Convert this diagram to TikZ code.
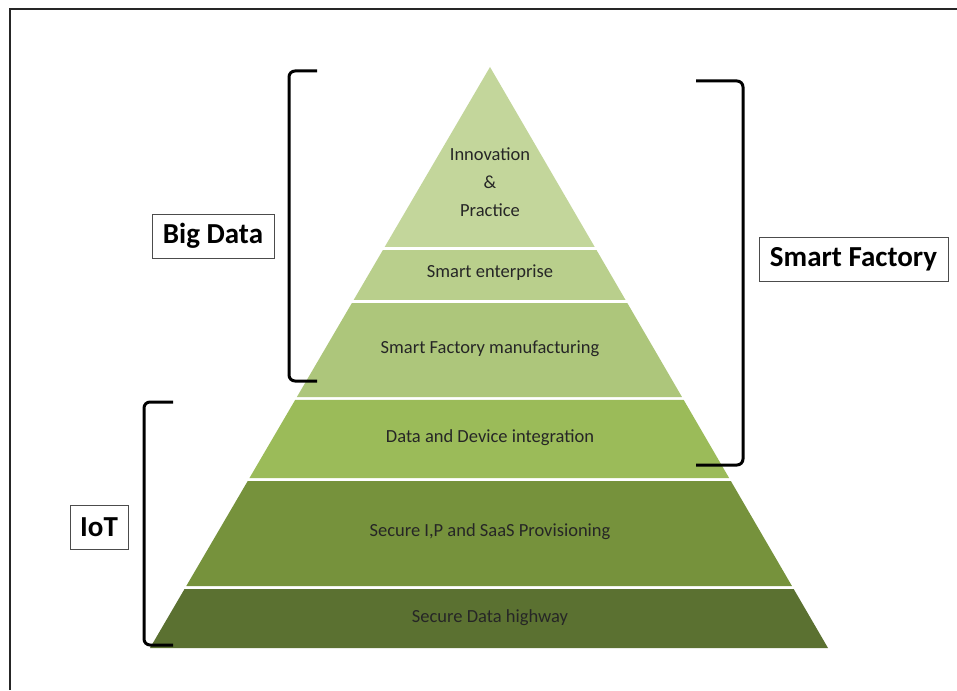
\documentclass[tikz,border=0pt]{standalone}
\usepackage{fontspec}
\setmainfont{Carlito}
\usetikzlibrary{calc}
\definecolor{cA}{HTML}{C3D69B}
\definecolor{cB}{HTML}{B9CF8C}
\definecolor{cC}{HTML}{ADC67B}
\definecolor{cD}{HTML}{9BBB59}
\definecolor{cE}{HTML}{76923C}
\definecolor{cF}{HTML}{5B7131}
\definecolor{txt}{HTML}{262626}
\begin{document}
\begin{tikzpicture}[x=1pt,y=-1pt,
  layertext/.style={text=txt,font=\fontsize{18.5}{21}\selectfont,align=center,inner sep=0pt},
  tag/.style={draw=black!70,line width=0.8pt,fill=white,font=\fontsize{29}{32}\selectfont\bfseries,inner sep=0pt,minimum height=44pt},
  bracket/.style={draw=black,line width=3pt,rounded corners=6pt},
  frame/.style={draw=black!85,line width=2.2pt}]
\useasboundingbox (0,0) rectangle (957,690);
\fill[white] (0,0) rectangle (957,690);
\coordinate (apex) at (490,67);
\coordinate (bl) at (150,648);
\coordinate (br) at (828,648);
% layers
\newcommand{\layer}[3]{%
  \fill[#3] ($(apex)!#1!(bl)$) -- ($(apex)!#1!(br)$) -- ($(apex)!#2!(br)$) -- ($(apex)!#2!(bl)$) -- cycle;}
\fill[cA] (apex) -- ($(apex)!0.3098!(br)$) -- ($(apex)!0.3098!(bl)$) -- cycle;
\layer{0.3150}{0.4010}{cB}
\layer{0.4062}{0.5680}{cC}
\layer{0.5731}{0.7074}{cD}
\layer{0.7126}{0.8933}{cE}
\layer{0.8985}{1}{cF}
% texts
\node[layertext] (t1) at (490,182) {Innovation\\[7pt]\&\\[7pt]Practice};
\node[layertext] (t2) at (490,273) {Smart enterprise};
\node[layertext] (t3) at (490,349) {Smart Factory manufacturing};
\node[layertext] (t4) at (490,438) {Data and Device integration};
\node[layertext] (t5) at (490,532) {Secure I,P and SaaS Provisioning};
\node[layertext] (t6) at (490,618) {Secure Data highway};
% brackets
\draw[bracket] (317,71) -- (289,71) -- (289,381) -- (317,381);
\draw[bracket] (696,81) -- (743,81) -- (743,465) -- (696,465);
\draw[bracket] (173,402) -- (144,402) -- (144,645) -- (173,645);
% tags
\node[tag,minimum width=122pt] (bigdata) at (213,236) {Big Data};
\node[tag,minimum width=189pt] (smartfactory) at (853.5,259.5) {Smart Factory};
\node[tag,minimum width=58pt] (iot) at (99,527) {IoT};
% frame
\draw[frame] (10,690) -- (10,9) -- (957,9);
\end{tikzpicture}
\end{document}
